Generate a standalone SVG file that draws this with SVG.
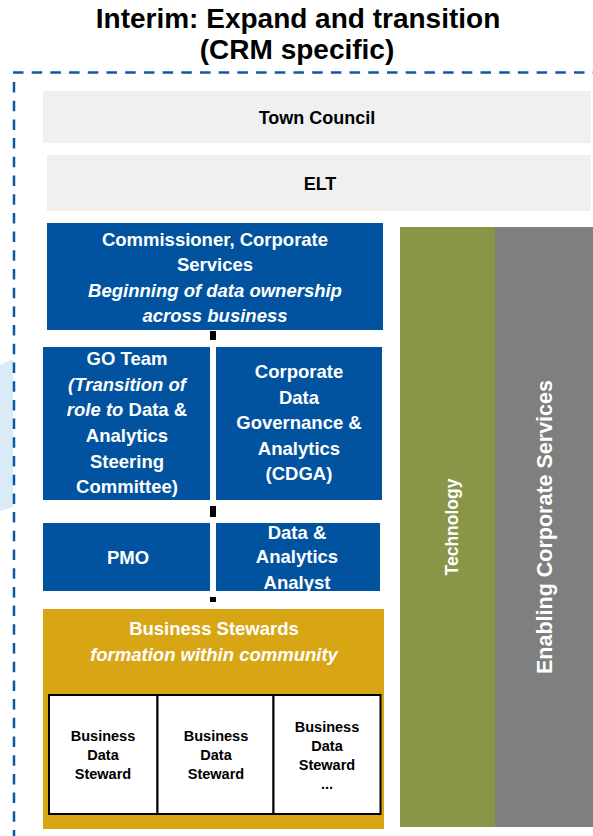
<svg xmlns="http://www.w3.org/2000/svg" width="593" height="836" viewBox="0 0 593 836">
<style>
text{font-family:"Liberation Sans",Arial,sans-serif;font-weight:bold;text-anchor:middle}
.t{font-size:18.5px;fill:#ffffff}
.d{font-size:18px;fill:#000000}
.s{font-size:14.5px;fill:#000000}
.i{font-style:italic}
.blue{fill:#02539f}
.grey{fill:#f0f0f0}
.dash{fill:none;stroke:#0a59a5;stroke-width:2.5;stroke-dasharray:10.5 8.2}
.conn{fill:#000000}
</style>
<defs>
<clipPath id="clipAnalyst"><rect x="216" y="523" width="164" height="68"/></clipPath>
</defs>
<rect width="593" height="836" fill="#ffffff"/>
<polygon points="0,365 13,359 13,507 0,511" fill="#daeaf6"/>
<g id="title">
<text x="298" y="28" style="font-size:28px" fill="#000">Interim: Expand and transition</text>
<text x="297" y="59" style="font-size:28px" fill="#000">(CRM specific)</text>
</g>
<g id="frame">
<path class="dash" d="M13,72.5 H593"/>
<path class="dash" d="M14,82 V836"/>
</g>
<g id="town-council">
<rect class="grey" x="43" y="91" width="548" height="52"/>
<text class="d" x="317" y="124">Town Council</text>
</g>
<g id="elt">
<rect class="grey" x="47" y="155" width="544" height="56"/>
<text class="d" x="320" y="190">ELT</text>
</g>
<g id="technology">
<rect x="400" y="227" width="95" height="600" fill="#8a9548"/>
<text transform="translate(458,527) rotate(-90)" style="font-size:17.5px" fill="#fff">Technology</text>
</g>
<g id="enabling">
<rect x="495" y="227" width="98" height="600" fill="#7f7f7f"/>
<text transform="translate(552,527) rotate(-90)" style="font-size:21.5px" fill="#fff">Enabling Corporate Services</text>
</g>
<g id="connectors">
<rect class="conn" x="210" y="331" width="6" height="9"/>
<rect class="conn" x="210" y="506" width="6" height="11"/>
<rect class="conn" x="210" y="597" width="6" height="5"/>
</g>
<g id="commissioner">
<rect class="blue" x="47" y="223" width="336" height="107"/>
<text class="t" x="215" y="246">Commissioner, Corporate</text>
<text class="t" x="215" y="271">Services</text>
<text class="t i" x="215" y="297">Beginning of data ownership</text>
<text class="t i" x="215" y="322">across business</text>
</g>
<g id="go-team">
<rect class="blue" x="43" y="347" width="167" height="153"/>
<text class="t" x="127" y="365">GO Team</text>
<text class="t i" x="127" y="391">(Transition of</text>
<text class="t" x="127" y="416"><tspan class="i">role to</tspan> Data &amp;</text>
<text class="t" x="127" y="442">Analytics</text>
<text class="t" x="127" y="468">Steering</text>
<text class="t" x="127" y="493">Committee)</text>
</g>
<g id="cdga">
<rect class="blue" x="216" y="347" width="166" height="153"/>
<text class="t" x="299" y="378">Corporate</text>
<text class="t" x="299" y="404">Data</text>
<text class="t" x="299" y="429">Governance &amp;</text>
<text class="t" x="299" y="455">Analytics</text>
<text class="t" x="299" y="480">(CDGA)</text>
</g>
<g id="pmo">
<rect class="blue" x="43" y="523" width="167" height="68"/>
<text class="t" x="128" y="564">PMO</text>
</g>
<g id="analyst">
<rect class="blue" x="216" y="523" width="164" height="68"/>
<g clip-path="url(#clipAnalyst)">
<text class="t" x="297" y="539">Data &amp;</text>
<text class="t" x="297" y="563">Analytics</text>
<text class="t" x="297" y="589">Analyst</text>
</g>
</g>
<g id="business-stewards">
<rect x="43" y="609" width="341" height="220" fill="#d8a515"/>
<text class="t" x="214" y="635">Business Stewards</text>
<text class="t i" x="214" y="661">formation within community</text>
</g>
<g id="steward-1">
<rect x="49" y="695" width="108.5" height="119" fill="#fff" stroke="#000" stroke-width="2"/>
<text class="s" x="103" y="741">Business</text>
<text class="s" x="103" y="760">Data</text>
<text class="s" x="103" y="779">Steward</text>
</g>
<g id="steward-2">
<rect x="157.5" y="695" width="116" height="119" fill="#fff" stroke="#000" stroke-width="2"/>
<text class="s" x="216" y="741">Business</text>
<text class="s" x="216" y="760">Data</text>
<text class="s" x="216" y="779">Steward</text>
</g>
<g id="steward-3">
<rect x="273.5" y="695" width="107" height="119" fill="#fff" stroke="#000" stroke-width="2"/>
<text class="s" x="327" y="732">Business</text>
<text class="s" x="327" y="751">Data</text>
<text class="s" x="327" y="770">Steward</text>
<text class="s" x="327" y="789">...</text>
</g>
</svg>
